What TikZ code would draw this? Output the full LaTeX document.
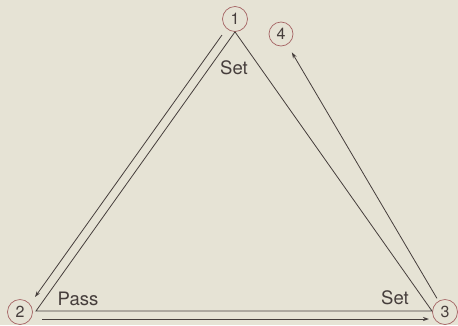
\documentclass[tikz,border=0pt]{standalone}
\usepackage{fontspec}
\setmainfont{TeX Gyre Heros}
\usetikzlibrary{arrows.meta, positioning, calc}
\definecolor{paper}{RGB}{230,227,213}
\definecolor{ring}{RGB}{165,100,100}
\definecolor{ink}{RGB}{70,62,60}

\begin{document}
\begin{tikzpicture}[
        x=1pt, y=-1pt,
        station/.style={draw=ring, circle, line width=0.7pt, minimum size=25pt, inner sep=0pt, font=\fontsize{16}{16}\selectfont, text=ink},
        edge/.style={draw=ink, line width=0.8pt},
        move/.style={-{Stealth[length=6pt, width=4pt]}, draw=ink, line width=0.8pt},
        tag/.style={font=\fontsize{18.5}{18.5}\selectfont, text=ink}
    ]
        % Background
        \fill[paper] (0,0) rectangle (458,325);
        \useasboundingbox (0,0) rectangle (458,325);

        % Nodes
        \node[station] (n1) at (235,19) {1};
        \node[station] (n2) at (20,312) {2};
        \node[station] (n3) at (445,312) {3};
        \node[station, minimum size=24pt] (n4) at (281,34) {4};

        % Corners
        \coordinate (c2) at (36,311);
        \coordinate (c3) at (432,311);

        % Triangle
        \draw[edge] (n1.south) -- (c2) -- (c3) -- cycle;

        % Moves
        \coordinate (m1) at (222,35);
        \coordinate (m2) at (35,297);
        \coordinate (m3) at (42,319);
        \coordinate (m4) at (429,319);
        \draw[move] (m1) -- (m2);
        \draw[move] (m3) -- (m4);
        \draw[move, shorten <=3pt, shorten >=9pt] (n3) -- (n4);

        % Labels
        \node[tag] (s1) at (234,68) {Set};
        \node[tag] (p2) at (78,299) {Pass};
        \node[tag] (s3) at (395,298) {Set};
    \end{tikzpicture}
\end{document}
